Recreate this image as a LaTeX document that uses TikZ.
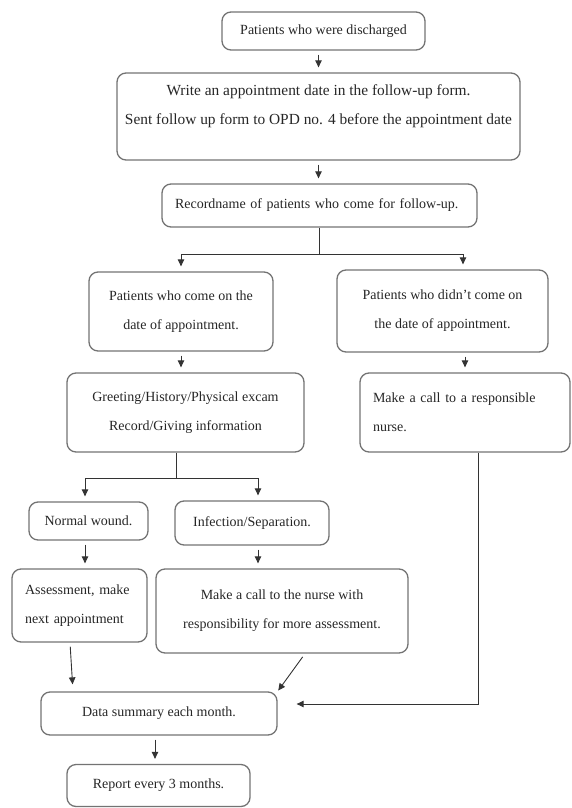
\documentclass[tikz,border=0pt]{standalone}
\usepackage{fontspec}
\setmainfont{Liberation Serif}
\usetikzlibrary{arrows.meta}

\begin{document}
\begin{tikzpicture}[x=1pt,y=-1pt,
    stepbox/.style={draw=black!55, line width=1.3pt, rounded corners=9pt, align=center,
      inner sep=0pt, text=black!85, font=\fontsize{14}{29}\selectfont},
    leftbox/.style={stepbox, align=left, inner xsep=13pt},
    arr/.style={draw=black!80, line width=0.9pt, -{Triangle[length=7pt,width=6.5pt]},
      shorten >=5pt, shorten <=4pt},
    ln/.style={draw=black!80, line width=0.9pt}]

    \useasboundingbox (0,0) rectangle (571,808);

    % boxes, top to bottom
    \node[stepbox, minimum width=203pt, minimum height=38pt] (disch) at (323.5,31) {Patients who were discharged};
    \node[stepbox, minimum width=403pt, minimum height=87pt, font=\fontsize{15.4}{29}\selectfont] (write) at (318.5,116.5)
      {Write an appointment date in the follow-up form.\\Sent follow up form to OPD no. 4 before the appointment date\\[-6pt]};
    \node[leftbox, text width=289pt, minimum height=43pt, inner xsep=13pt] (record) at (319.5,205.5)
      {Recordname of patients who come for follow-up.};

    \node[stepbox, minimum width=184pt, minimum height=79pt] (come) at (181,311.5)
      {Patients who come on the\\date of appointment.};
    \node[stepbox, minimum width=211pt, minimum height=82pt] (notcome) at (442.5,311)
      {Patients who didn't come on\\the date of appointment.};

    \node[stepbox, minimum width=237pt, minimum height=79pt] (greet) at (185.5,412.5)
      {Greeting/History/Physical excam\\Record/Giving information};
    \node[leftbox, text width=184pt, minimum height=79pt] (call) at (465,412.5)
      {Make a call to a responsible\\nurse.};

    \node[stepbox, minimum width=119pt, minimum height=38pt] (normal) at (88.5,521) {Normal wound.};
    \node[stepbox, minimum width=154pt, minimum height=44pt] (infect) at (252,523) {Infection/Separation.};

    \node[leftbox, text width=109pt, minimum height=73pt] (assess) at (79.5,605.5)
      {Assessment, make\\next appointment};
    \node[stepbox, minimum width=252pt, minimum height=84pt] (nurse) at (282,611)
      {Make a call to the nurse with\\responsibility for more assessment.};

    \node[stepbox, minimum width=236pt, minimum height=43pt] (summary) at (159,713.5) {Data summary each month.};
    \node[stepbox, minimum width=183pt, minimum height=42pt] (report) at (158.5,785.5) {Report every 3 months.};

    % connectors
    \coordinate (fork1) at (319.5,254);
    \coordinate (fork2) at (176,478);

    \draw[arr] (disch.south -| write.north) -- (write.north);
    \draw[arr] (write.south) -- (write.south |- record.north);

    \draw[ln] (record.south) -- (fork1);
    \draw[arr, shorten <=0pt] (fork1) -| (come.north);
    \draw[arr, shorten <=0pt] (fork1) -| ([xshift=20.5pt]notcome.north);

    \draw[arr] (come.south) -- (come.south |- greet.north);
    \draw[arr] (call.north |- notcome.south) -- (call.north);

    \draw[ln] (fork2 |- greet.south) -- (fork2);
    \draw[arr, shorten <=0pt] (fork2) -| ([xshift=-3.5pt]normal.north);
    \draw[arr, shorten <=0pt] (fork2) -| ([xshift=6pt]infect.north);

    \draw[arr] ([xshift=-3.5pt]normal.south) -- ([xshift=-3.5pt]normal.south |- assess.north);
    \draw[arr] ([xshift=6pt]infect.south) -- ([xshift=6pt]infect.south |- nurse.north);

    \draw[arr, shorten >=7pt] ([xshift=-9.5pt]assess.south) -- ([xshift=-86pt]summary.north);
    \draw[arr, shorten >=1pt] ([xshift=23pt]nurse.south) -- (summary.north east);
    \draw[arr, shorten <=0pt, shorten >=19pt] ([xshift=13pt]call.south) |- ([yshift=9.5pt]summary.east);

    \draw[arr] ([xshift=-4pt]summary.south) -- ([xshift=-4pt]summary.south |- report.north);

\end{tikzpicture}
\end{document}
